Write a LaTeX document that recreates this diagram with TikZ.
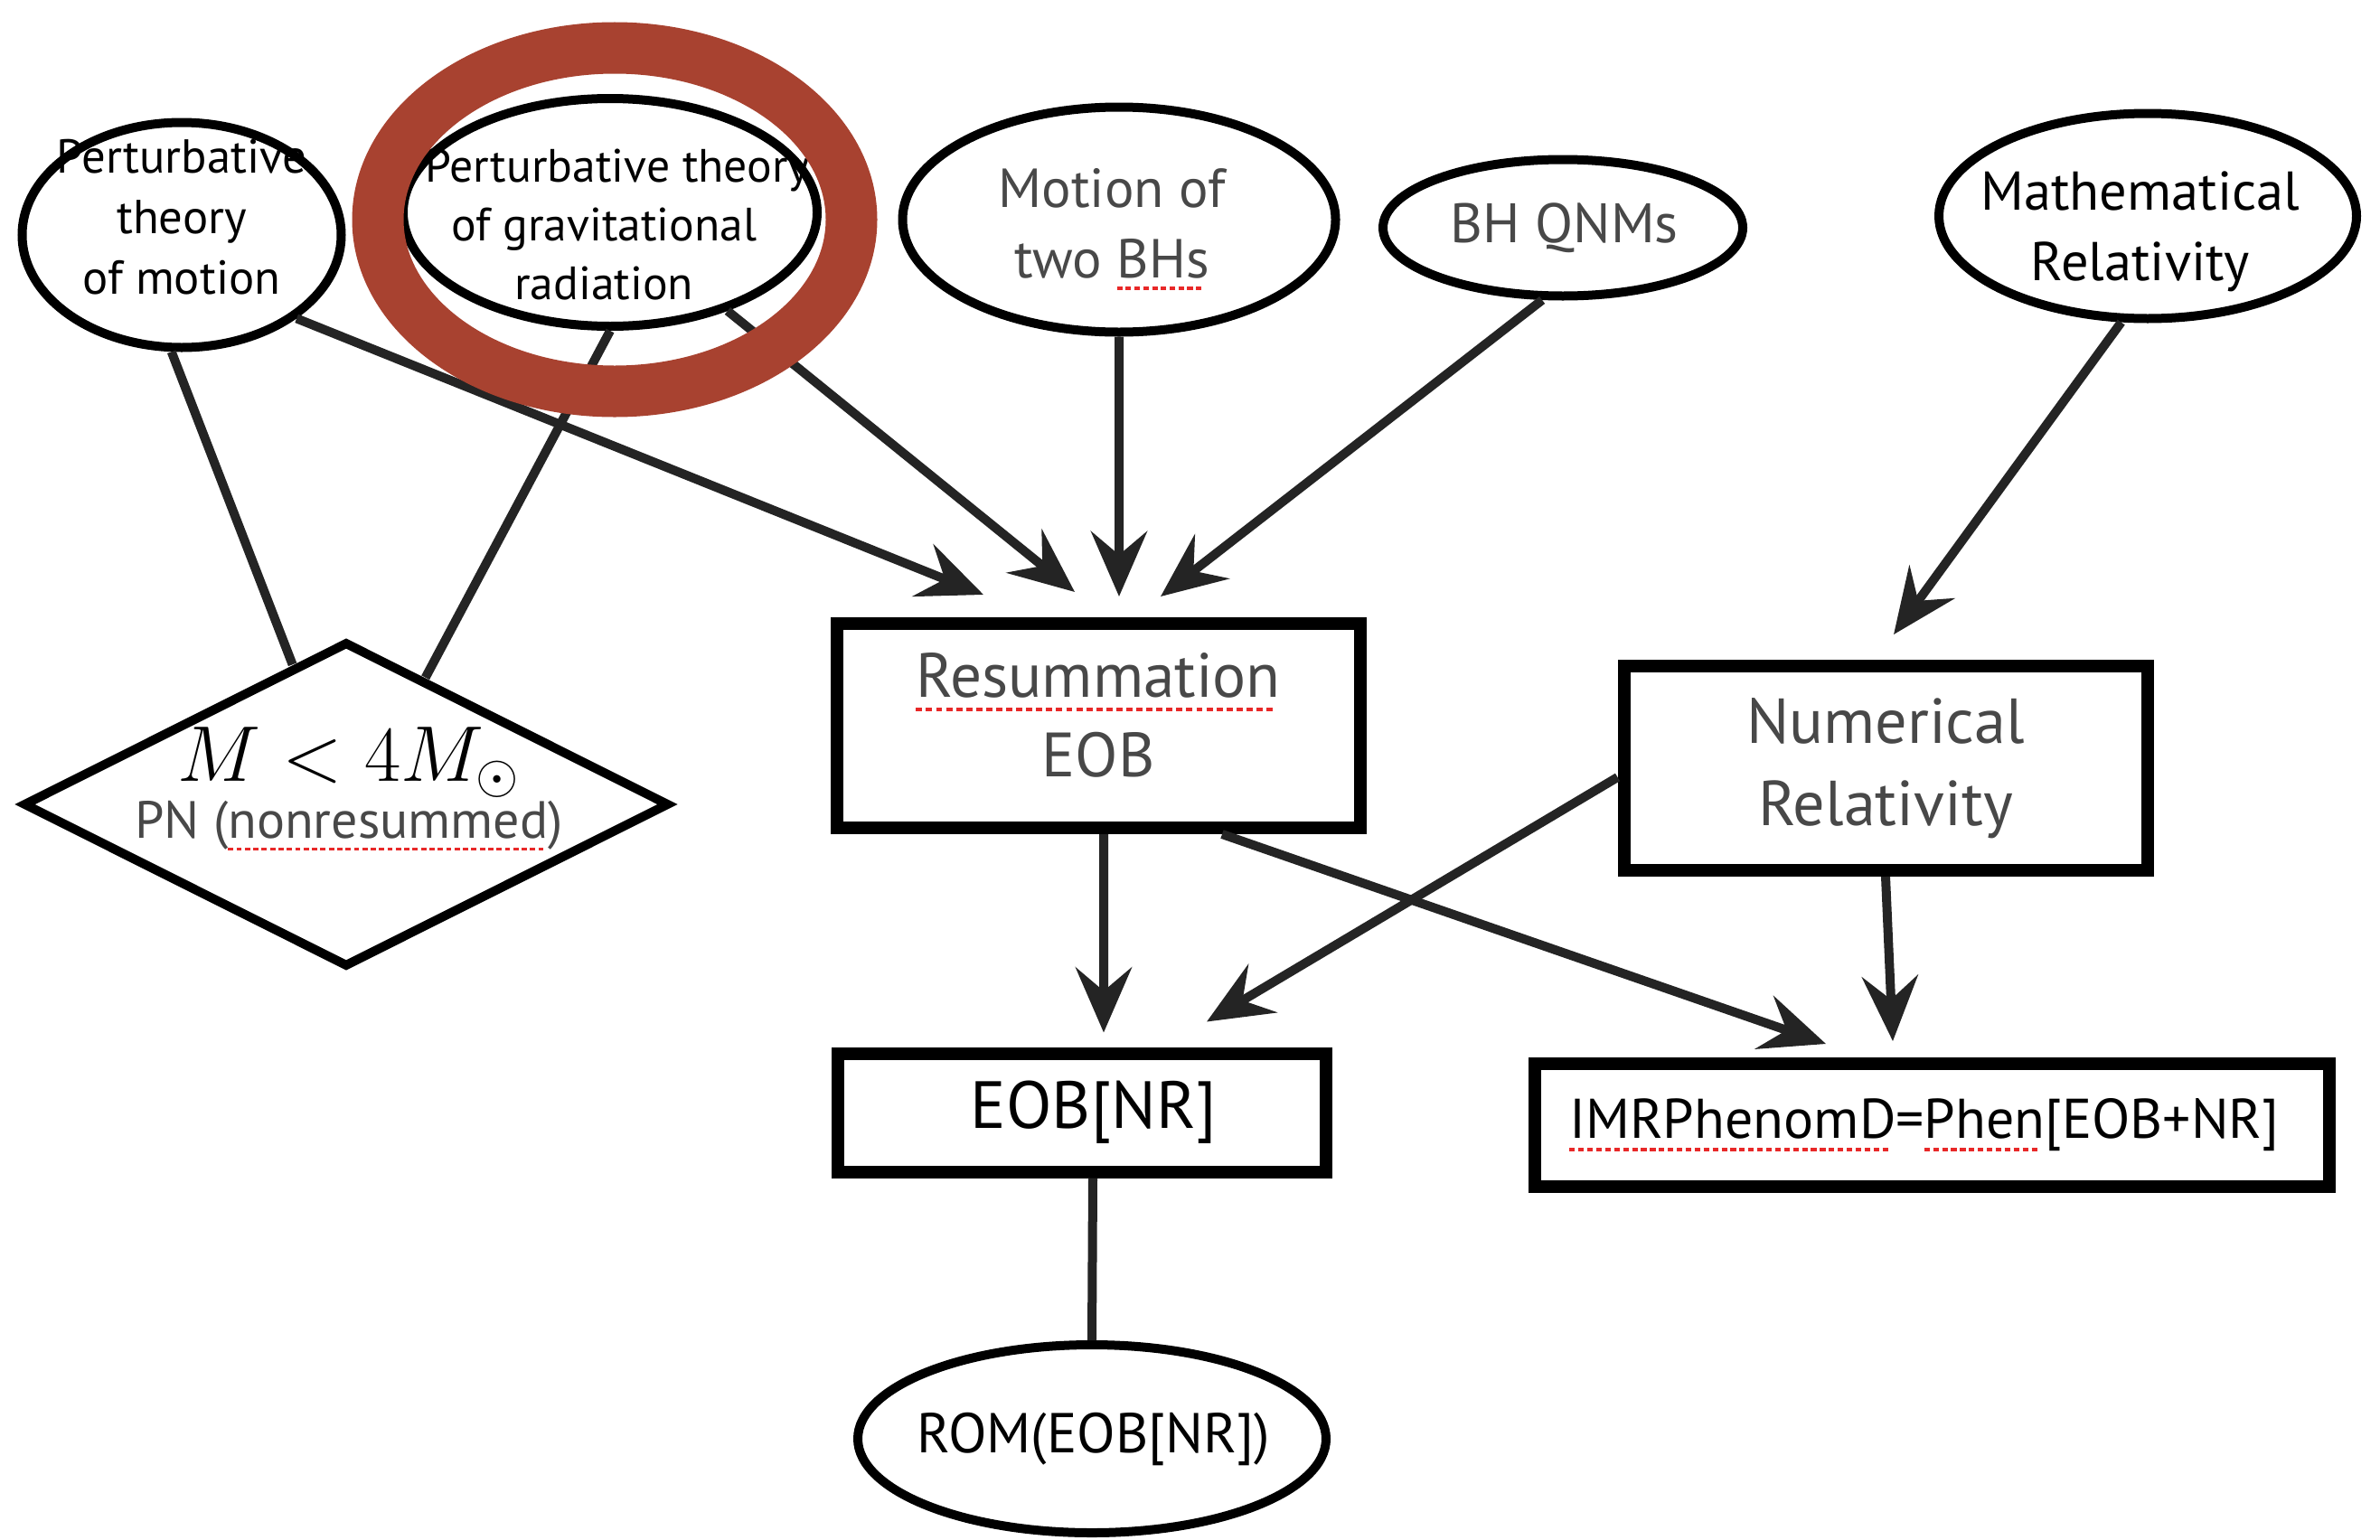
\documentclass[tikz,border=0pt]{standalone}
\usepackage{fontspec}
\setmainfont{PT Sans}
\usetikzlibrary{arrows.meta,shapes.geometric}
\usepackage{xcolor}

\definecolor{chalk}{RGB}{36,36,36}
\definecolor{greytext}{RGB}{72,72,72}
\definecolor{ringred}{RGB}{168,66,48}
\definecolor{spellred}{RGB}{232,40,40}
\newsavebox{\spellbox}
\newcommand{\spellerr}[1]{\sbox{\spellbox}{#1}\rlap{\usebox{\spellbox}}\raisebox{-0.45ex}{\hbox to \wd\spellbox{\color{spellred}\leaders\hbox{\rule{0.1em}{0.11ex}\kern0.06em}\hfill}}}
\newcommand{\lowered}[2]{\raisebox{-#1}[\height][\depth]{\begin{tabular}{@{}c@{}}#2\end{tabular}}}

\begin{document}
\begin{tikzpicture}[every node/.style={
    draw,
    inner sep=0pt,
    align=center,
    fill=white
},
bubble/.style={ellipse, line width=0.1cm, inner xsep=-0.8cm, inner ysep=-0.4cm},
panel/.style={rectangle, line width=0.14cm},
link/.style={chalk, line width=0.1cm},
>={Stealth[length=0.72cm, width=0.62cm, inset=0.26cm]}]

	\useasboundingbox (0,0) rectangle (26.33,-17.03);

	%sources

	\node (theory_motion) [bubble, minimum width=3.53cm, minimum height=2.49cm, text depth=0.4cm, font=\fontsize{15}{19}\selectfont, shift={(2.01,-2.60)}]
	{
		Perturbative\\theory\\of motion
	};
	\node (theory_radiation) [bubble, minimum width=4.58cm, minimum height=2.52cm, font=\fontsize{14.7}{18.4}\selectfont, shift={(6.75,-2.35)}]
	{
		\lowered{0.185cm}{\hspace*{0.3cm}Perturbative theory\\of gravitational\\radiation}
	};
	\node (two_bh_motion) [bubble, minimum width=4.79cm, minimum height=2.49cm, text=greytext, font=\fontsize{17.3}{22}\selectfont, shift={(12.38,-2.43)}]
	{
		\lowered{0.1cm}{Motion of\\two \spellerr{BHs}}
	};
	\node (bh_qnms) [bubble, minimum width=3.98cm, minimum height=1.51cm, text=greytext, font=\fontsize{17.5}{22}\selectfont, shift={(17.29,-2.52)}]
	{
		\hspace*{0.2cm}BH QNMs
	};
	\node (math_relativity) [bubble, minimum width=4.62cm, minimum height=2.27cm, font=\fontsize{17.2}{22}\selectfont, shift={(23.76,-2.39)}]
	{
		\lowered{0.17cm}{Mathematical\\Relativity}
	};

	%models

	\node (pn_diamond) [diamond, line width=0.1cm, minimum width=7.15cm, minimum height=3.6cm, shift={(3.83,-8.90)}]
	{
	};
	\node (pn_text) [draw=none, fill=none, font=\fontsize{16.5}{18}\selectfont, shift={(3.86,-8.73)}]
	{
		{\fontsize{24}{18}\selectfont $M < 4M_\odot$}\\
		\textcolor{greytext}{PN (\spellerr{nonresummed})}
	};
	\node (resummation) [panel, minimum width=5.79cm, minimum height=2.26cm, text depth=0.24cm, text=greytext, font=\fontsize{19.7}{25}\selectfont, shift={(12.15,-8.03)}]
	{
		\spellerr{Resummation}\\EOB
	};
	\node (numerical_relativity) [panel, minimum width=5.79cm, minimum height=2.26cm, text=greytext, font=\fontsize{20}{26}\selectfont, shift={(20.86,-8.50)}]
	{
		Numerical\\Relativity
	};

	%waveforms

	\node (eob_nr) [panel, minimum width=5.40cm, minimum height=1.31cm, font=\fontsize{21}{25}\selectfont, shift={(11.97,-12.31)}]
	{
		\hspace*{0.45cm}EOB[NR]
	};
	\node (imr_phenom) [panel, minimum width=8.79cm, minimum height=1.36cm, font=\fontsize{17.6}{22}\selectfont, shift={(21.37,-12.45)}]
	{
		\spellerr{IMRPhenomD}=\spellerr{Phen}[EOB+NR]
	};
	\node (rom_eob_nr) [bubble, minimum width=5.18cm, minimum height=2.08cm, font=\fontsize{17.7}{22}\selectfont, shift={(12.08,-15.92)}]
	{
		\hspace*{0.2cm}ROM(EOB[NR])
	};



	\draw[link] (theory_motion.-95) to (pn_diamond.111);
	\draw[link] (theory_radiation.-90) to (pn_diamond.58);
	\draw[->, link] (theory_motion.-36) to ([xshift=-1.27cm, yshift=0.25cm]resummation.north);
	\draw[->, link] (theory_radiation.-40) to ([xshift=-0.26cm, yshift=0.28cm]resummation.north);
	\draw[->, link] (two_bh_motion.south) to ([xshift=0.23cm, yshift=0.23cm]resummation.north);
	\draw[->, link] (bh_qnms.-106) to ([xshift=0.69cm, yshift=0.23cm]resummation.north);
	\draw[->, link] (math_relativity.-104) to ([xshift=0.09cm, yshift=0.28cm]numerical_relativity.north);
	\draw[->, link] ([xshift=0.06cm]resummation.south) to ([xshift=0.24cm, yshift=0.16cm]eob_nr.north);
	\draw[->, link] ([yshift=-0.1cm]numerical_relativity.west) to ([xshift=1.38cm, yshift=0.28cm]eob_nr.north);
	\draw[->, link] ([xshift=1.37cm]resummation.south) to ([xshift=-1.17cm, yshift=0.15cm]imr_phenom.north);
	\draw[->, link] (numerical_relativity.south) to ([xshift=-0.43cm, yshift=0.18cm]imr_phenom.north);
	\draw[link] ([xshift=0.12cm]eob_nr.south) to (rom_eob_nr.north);

	%highlight

	\node (highlight_ring) [ellipse, draw=ringred, fill=none, line width=0.57cm, minimum width=5.24cm, minimum height=3.80cm, shift={(6.80,-2.43)}]
	{
	};

\end{tikzpicture}
\end{document}
